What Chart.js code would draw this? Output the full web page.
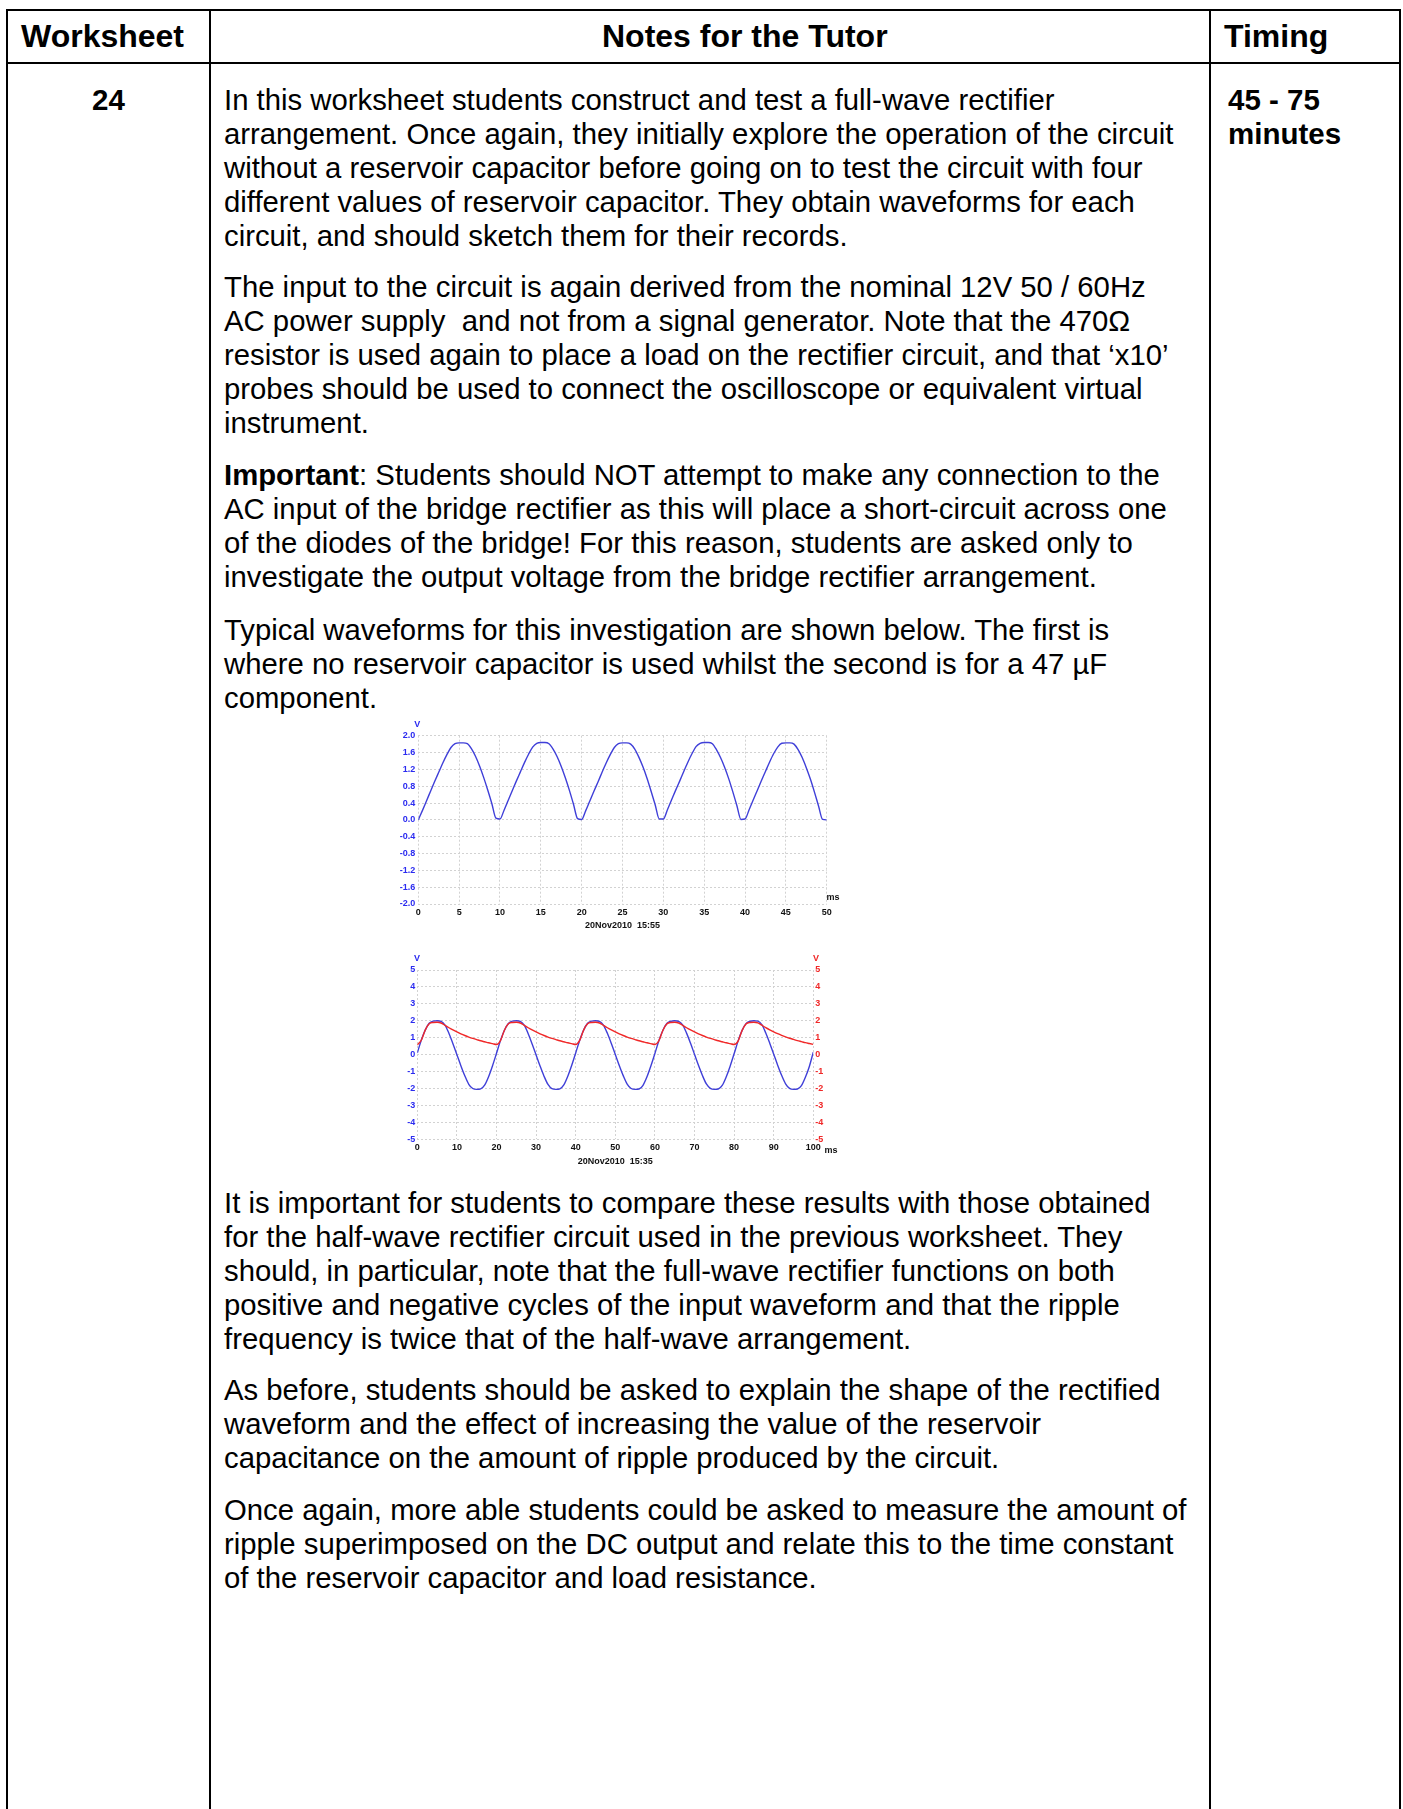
<!DOCTYPE html>
<html>
<head>
<meta charset="utf-8">
<script src="https://cdn.jsdelivr.net/npm/chart.js@4.4.1/dist/chart.umd.min.js"></script>
<style>
  html, body { margin: 0; padding: 0; background: #fff; }
  body { width: 1403px; height: 1809px; position: relative; overflow: hidden;
         font-family: "Liberation Sans", Arial, sans-serif; color: #000; }
  .rule { position: absolute; background: #000; }
  .head { position: absolute; top: 18.6px; font-weight: bold; font-size: 32px; line-height: 34px; white-space: pre; }
  .para { position: absolute; left: 224px; font-size: 29.3px; line-height: 33.9px; white-space: pre; }
  .cell { position: absolute; top: 83.3px; font-weight: bold; font-size: 29.5px; line-height: 33.9px; white-space: pre; }
  canvas { position: absolute; display: block; }
</style>
</head>
<body>

<!-- table frame -->
<div class="rule" style="left:6px; top:9px; width:1395px; height:2px;"></div>
<div class="rule" style="left:6px; top:62px; width:1395px; height:2px;"></div>
<div class="rule" style="left:6px; top:9px; width:2px; height:1800px;"></div>
<div class="rule" style="left:209px; top:9px; width:2px; height:1800px;"></div>
<div class="rule" style="left:1209px; top:9px; width:2px; height:1800px;"></div>
<div class="rule" style="left:1399px; top:9px; width:2px; height:1800px;"></div>

<div class="head" style="left:21px;">Worksheet</div>
<div class="head" style="left:602px;">Notes for the Tutor</div>
<div class="head" style="left:1224px;">Timing</div>

<div class="cell" style="left:8px; width:201px; text-align:center;">24</div>
<div class="cell" style="left:1228px;">45 - 75
minutes</div>

<div class="para" style="top:83.3px;">In this worksheet students construct and test a full-wave rectifier
arrangement. Once again, they initially explore the operation of the circuit
without a reservoir capacitor before going on to test the circuit with four
different values of reservoir capacitor. They obtain waveforms for each
circuit, and should sketch them for their records.</div>

<div class="para" style="top:270.3px;">The input to the circuit is again derived from the nominal 12V 50 / 60Hz
AC power supply  and not from a signal generator. Note that the 470Ω
resistor is used again to place a load on the rectifier circuit, and that ‘x10’
probes should be used to connect the oscilloscope or equivalent virtual
instrument.</div>

<div class="para" style="top:458.3px;"><b>Important</b>: Students should NOT attempt to make any connection to the
AC input of the bridge rectifier as this will place a short-circuit across one
of the diodes of the bridge! For this reason, students are asked only to
investigate the output voltage from the bridge rectifier arrangement.</div>

<div class="para" style="top:612.8px;">Typical waveforms for this investigation are shown below. The first is
where no reservoir capacitor is used whilst the second is for a 47 µF
component.</div>

<canvas id="scope1" width="460" height="232" style="left:392px; top:712px;"></canvas>
<canvas id="scope2" width="470" height="225" style="left:385px; top:945px;"></canvas>

<div class="para" style="top:1186.3px;">It is important for students to compare these results with those obtained
for the half-wave rectifier circuit used in the previous worksheet. They
should, in particular, note that the full-wave rectifier functions on both
positive and negative cycles of the input waveform and that the ripple
frequency is twice that of the half-wave arrangement.</div>

<div class="para" style="top:1373.3px;">As before, students should be asked to explain the shape of the rectified
waveform and the effect of increasing the value of the reservoir
capacitance on the amount of ripple produced by the circuit.</div>

<div class="para" style="top:1493.3px;">Once again, more able students could be asked to measure the amount of
ripple superimposed on the DC output and relate this to the time constant
of the reservoir capacitor and load resistance.</div>

<script>
// first trace: no reservoir capacitor (sample times in ms, volts)
const times1 = [0, 0.5, 1, 1.5, 2, 2.5, 3, 3.5, 4, 4.5, 5, 5.5, 6, 6.5, 7, 7.5, 8, 8.5, 9, 9.5,
  10, 10.5, 11, 11.5, 12, 12.5, 13, 13.5, 14, 14.5, 15, 15.5, 16, 16.5, 17, 17.5, 18, 18.5, 19, 19.5,
  20, 20.5, 21, 21.5, 22, 22.5, 23, 23.5, 24, 24.5, 25, 25.5, 26, 26.5, 27, 27.5, 28, 28.5, 29, 29.5,
  30, 30.5, 31, 31.5, 32, 32.5, 33, 33.5, 34, 34.5, 35, 35.5, 36, 36.5, 37, 37.5, 38, 38.5, 39, 39.5,
  40, 40.5, 41, 41.5, 42, 42.5, 43, 43.5, 44, 44.5, 45, 45.5, 46, 46.5, 47, 47.5, 48, 48.5, 49, 49.5, 50];
const volts1 = [0.00, 0.22, 0.45, 0.68, 0.91, 1.13, 1.35, 1.55, 1.72, 1.81, 1.83, 1.83, 1.81, 1.69, 1.51, 1.28, 1.01, 0.71, 0.39, 0.04,
  0.02, 0.23, 0.46, 0.69, 0.92, 1.14, 1.36, 1.56, 1.73, 1.82, 1.84, 1.84, 1.81, 1.68, 1.50, 1.27, 1.00, 0.70, 0.37, 0.03,
  0.01, 0.22, 0.45, 0.68, 0.90, 1.13, 1.35, 1.55, 1.72, 1.81, 1.83, 1.83, 1.80, 1.68, 1.49, 1.26, 0.99, 0.68, 0.36, 0.02,
  0.02, 0.24, 0.47, 0.70, 0.92, 1.15, 1.37, 1.57, 1.74, 1.82, 1.84, 1.84, 1.81, 1.67, 1.48, 1.25, 0.98, 0.67, 0.34, 0.01,
  0.02, 0.24, 0.47, 0.70, 0.93, 1.15, 1.37, 1.57, 1.73, 1.82, 1.83, 1.83, 1.80, 1.67, 1.48, 1.24, 0.97, 0.66, 0.33, 0.01, 0.00];
const xTicks1 = [0, 5, 10, 15, 20, 25, 30, 35, 40, 45, 50];
const yTicks1 = [-2.0, -1.6, -1.2, -0.8, -0.4, 0.0, 0.4, 0.8, 1.2, 1.6, 2.0];
const stamp1 = '20Nov2010  15:55';

// second trace: 47 uF reservoir capacitor
const times2 = [0, 1, 2, 3, 4, 5, 6, 7, 8, 9, 10, 11, 12, 13, 14, 15, 16, 17, 18, 19,
  20, 21, 22, 23, 24, 25, 26, 27, 28, 29, 30, 31, 32, 33, 34, 35, 36, 37, 38, 39,
  40, 41, 42, 43, 44, 45, 46, 47, 48, 49, 50, 51, 52, 53, 54, 55, 56, 57, 58, 59,
  60, 61, 62, 63, 64, 65, 66, 67, 68, 69, 70, 71, 72, 73, 74, 75, 76, 77, 78, 79,
  80, 81, 82, 83, 84, 85, 86, 87, 88, 89, 90, 91, 92, 93, 94, 95, 96, 97, 98, 99, 100];
const inputVolts = [0.10, 0.85, 1.45, 1.85, 1.98, 2.00, 1.97, 1.75, 1.25, 0.65, 0.00, -0.65, -1.25, -1.75, -2.00, -2.05, -2.02, -1.80, -1.30, -0.65,
  0.08, 0.83, 1.44, 1.84, 1.98, 2.00, 1.96, 1.74, 1.24, 0.63, -0.02, -0.67, -1.27, -1.76, -2.01, -2.05, -2.02, -1.79, -1.28, -0.63,
  0.10, 0.84, 1.45, 1.85, 1.98, 2.00, 1.97, 1.75, 1.26, 0.66, 0.01, -0.64, -1.24, -1.74, -2.00, -2.05, -2.03, -1.81, -1.31, -0.66,
  0.07, 0.82, 1.43, 1.84, 1.97, 2.00, 1.97, 1.76, 1.27, 0.67, 0.02, -0.63, -1.23, -1.73, -1.99, -2.05, -2.03, -1.82, -1.32, -0.68,
  0.05, 0.80, 1.42, 1.83, 1.97, 2.00, 1.98, 1.77, 1.28, 0.68, 0.03, -0.62, -1.22, -1.72, -1.99, -2.05, -2.03, -1.83, -1.34, -0.70, 0.15];
const outputVolts = [0.57, 0.85, 1.45, 1.82, 1.90, 1.91, 1.87, 1.73, 1.59, 1.46, 1.34, 1.23, 1.13, 1.04, 0.96, 0.89, 0.82, 0.76, 0.70, 0.65,
  0.60, 0.83, 1.44, 1.82, 1.90, 1.91, 1.87, 1.73, 1.59, 1.46, 1.34, 1.23, 1.13, 1.04, 0.96, 0.89, 0.82, 0.76, 0.70, 0.65,
  0.60, 0.84, 1.45, 1.82, 1.90, 1.91, 1.87, 1.73, 1.59, 1.46, 1.34, 1.23, 1.13, 1.04, 0.96, 0.89, 0.82, 0.76, 0.70, 0.65,
  0.60, 0.82, 1.43, 1.81, 1.90, 1.91, 1.87, 1.73, 1.59, 1.46, 1.34, 1.23, 1.13, 1.04, 0.96, 0.89, 0.82, 0.76, 0.70, 0.65,
  0.60, 0.80, 1.42, 1.81, 1.90, 1.91, 1.88, 1.74, 1.60, 1.47, 1.35, 1.24, 1.14, 1.05, 0.97, 0.90, 0.83, 0.77, 0.71, 0.66, 0.61];
const xTicks2 = [0, 10, 20, 30, 40, 50, 60, 70, 80, 90, 100];
const yTicks2 = [-5, -4, -3, -2, -1, 0, 1, 2, 3, 4, 5];
const stamp2 = '20Nov2010  15:35';

const BLUE = '#2b2bf0';
const TRACE_BLUE = '#3f3fd8';
const RED = '#f02828';
const GRID = '#d2d2d2';
const tickFont = { family: '"Liberation Sans", Arial, sans-serif', size: 9, weight: 'bold' };

Chart.defaults.animation = false;

// writes the "V" / "ms" unit marks and the capture date round the plot area
const scopeText = {
  id: 'scopeText',
  afterDraw(chart, args, opts) {
    const { ctx, chartArea: a } = chart;
    ctx.save();
    ctx.font = 'bold 9px "Liberation Sans", Arial, sans-serif';
    ctx.textAlign = 'center';
    ctx.textBaseline = 'middle';
    ctx.fillStyle = BLUE;
    ctx.fillText('V', a.left + opts.vLeft, a.top - 11);
    if (opts.rightV) {
      ctx.fillStyle = RED;
      ctx.fillText('V', a.right + opts.vRight, a.top - 11);
    }
    ctx.fillStyle = '#111';
    ctx.fillText('ms', a.right + opts.msX, a.bottom + opts.msY);
    ctx.fillText(opts.stamp, (a.left + a.right) / 2, a.bottom + opts.stampY);
    ctx.restore();
  }
};

function pickTicks(list) {
  return scale => { scale.ticks = list.map(v => ({ value: v })); };
}

function points(xs, ys) {
  return xs.map((x, i) => ({ x: x, y: ys[i] }));
}

const gridStyle = { color: GRID, lineWidth: 1, drawTicks: false };
const borderStyle = { display: false, dash: [2, 2] };

// chart 1
new Chart(document.getElementById('scope1'), {
  type: 'line',
  data: {
    datasets: [{
      data: points(times1, volts1),
      borderColor: TRACE_BLUE,
      borderWidth: 1.4,
      pointRadius: 0,
      cubicInterpolationMode: 'monotone'
    }]
  },
  plugins: [scopeText],
  options: {
    responsive: false,
    layout: { padding: { top: 23.7, right: 25.3, left: 0, bottom: 0 } },
    plugins: {
      legend: { display: false },
      tooltip: { enabled: false },
      scopeText: { vLeft: -1, rightV: false, msX: 6.3, msY: -6, stamp: stamp1, stampY: 21.7 }
    },
    scales: {
      x: {
        type: 'linear', min: 0, max: 50,
        afterBuildTicks: pickTicks(xTicks1),
        afterFit: s => { s.height = 40; },
        grid: gridStyle, border: borderStyle,
        ticks: { padding: 3, color: '#111', font: tickFont, maxRotation: 0, autoSkip: false }
      },
      y: {
        type: 'linear', min: -2, max: 2,
        afterBuildTicks: pickTicks(yTicks1),
        afterFit: s => { s.width = 26.3; },
        grid: gridStyle, border: borderStyle,
        ticks: {
          padding: 3, color: BLUE, font: tickFont, autoSkip: false,
          callback: v => (Math.abs(v) < 1e-9 ? 0 : v).toFixed(1)
        }
      }
    }
  }
});

// chart 2
new Chart(document.getElementById('scope2'), {
  type: 'line',
  data: {
    datasets: [{
      data: points(times2, outputVolts),
      yAxisID: 'y2',
      borderColor: RED,
      borderWidth: 1.4,
      pointRadius: 0,
      cubicInterpolationMode: 'monotone'
    }, {
      data: points(times2, inputVolts),
      yAxisID: 'y',
      borderColor: TRACE_BLUE,
      borderWidth: 1.4,
      pointRadius: 0,
      cubicInterpolationMode: 'monotone'
    }]
  },
  plugins: [scopeText],
  options: {
    responsive: false,
    layout: { padding: { top: 25, right: 0, left: 0, bottom: 0 } },
    plugins: {
      legend: { display: false },
      tooltip: { enabled: false },
      scopeText: { vLeft: -0.3, rightV: true, vRight: 2.7, msX: 17.7, msY: 11.7, stamp: stamp2, stampY: 22.4 }
    },
    scales: {
      x: {
        type: 'linear', min: 0, max: 100,
        afterBuildTicks: pickTicks(xTicks2),
        afterFit: s => { s.height = 30.7; },
        grid: gridStyle, border: borderStyle,
        ticks: { padding: 3, color: '#111', font: tickFont, maxRotation: 0, autoSkip: false }
      },
      y: {
        type: 'linear', position: 'left', min: -5, max: 5,
        afterBuildTicks: pickTicks(yTicks2),
        afterFit: s => { s.width = 32.3; },
        grid: gridStyle, border: borderStyle,
        ticks: { padding: 2, color: BLUE, font: tickFont, autoSkip: false }
      },
      y2: {
        type: 'linear', position: 'right', min: -5, max: 5,
        afterBuildTicks: pickTicks(yTicks2),
        afterFit: s => { s.width = 41.7; },
        grid: { display: false, drawTicks: false }, border: { display: false },
        ticks: { padding: 2, color: RED, font: tickFont, autoSkip: false }
      }
    }
  }
});
</script>
</body>
</html>
